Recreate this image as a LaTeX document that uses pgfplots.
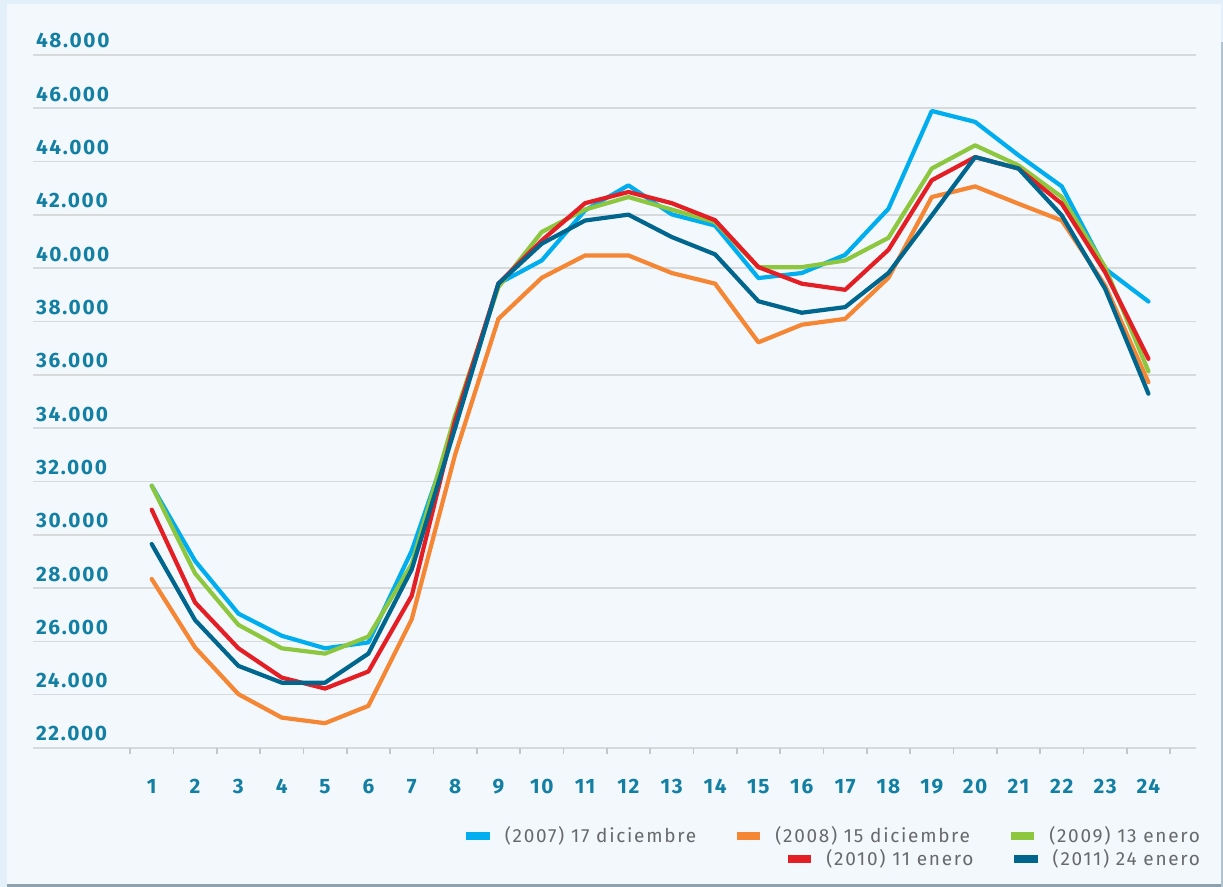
\documentclass[border=0pt]{standalone}
\usepackage{fontspec}
\setmainfont{Fira Sans}
\newfontfamily\tickfont[LetterSpace=8]{Fira Sans}
\newfontfamily\legfont[LetterSpace=9]{Fira Sans}
\usepackage{pgfplots}
\pgfplotsset{compat=1.18}
\definecolor{stripblue}{HTML}{E3EFF9}
\definecolor{panel}{HTML}{F3F8FC}
\definecolor{bordergray}{HTML}{8DA2AE}
\definecolor{rightgray}{HTML}{AFC2CD}
\definecolor{gridgray}{HTML}{D7DADD}
\definecolor{tickgray}{HTML}{C4C7CA}
\definecolor{tickblue}{HTML}{137FA3}
\definecolor{leggray}{HTML}{67696B}
\definecolor{c2007}{HTML}{00AEEF}
\definecolor{c2008}{HTML}{F58634}
\definecolor{c2009}{HTML}{8DC63F}
\definecolor{c2010}{HTML}{E31E24}
\definecolor{c2011}{HTML}{00668E}

\pgfplotstableread{
h y2007 y2008 y2009 y2010 y2011
1  31840 28340 31840 30940 29650
2  29020 25770 28550 27460 26800
3  27040 24020 26620 25740 25080
4  26210 23140 25740 24640 24450
5  25740 22930 25540 24230 24450
6  25960 23580 26180 24870 25540
7  29400 26830 28900 27710 28700
8  34100 33000 34470 34280 34000
9  39420 38100 39290 39420 39420
10 40290 39640 41360 41040 40920
11 42170 40480 42200 42440 41790
12 43110 40480 42670 42860 42010
13 42020 39820 42200 42440 41170
14 41600 39420 41730 41800 40520
15 39630 37220 40040 40040 38760
16 39820 37880 40040 39420 38330
17 40500 38100 40290 39190 38540
18 42230 39640 41140 40690 39820
19 45900 42670 43740 43300 41980
20 45490 43070 44610 44170 44170
21 44240 42420 43860 43740 43740
22 43070 41790 42670 42420 41980
23 39980 39350 40040 39850 39230
24 38750 35720 36130 36600 35290
}\datatable

\pgfplotsset{
  mylegend/.style={
    legend style={draw=none, fill=none, inner sep=0pt, outer sep=0pt,
      font=\legfont\fontsize{9.5}{11}\selectfont, text=leggray,
      nodes={inner sep=0pt},
      /tikz/every even column/.append style={column sep=20.25pt},
      /tikz/every odd column/.append style={column sep=7.5pt}},
    legend image code/.code={\path[fill, draw=none] (0pt,-1.83pt) rectangle (11.85pt,1.83pt);},
  },
  myaxis/.style={
    at={(0pt,0pt)}, anchor=south west,
    scale only axis, width=581.1pt, height=346.5pt,
    xmin=-1.728, xmax=25.09, ymin=22000, ymax=48000,
  },
}

\begin{document}
\begin{tikzpicture}[x=1pt,y=1pt]
\fill[stripblue] (-16.75,-69.5) rectangle (594.75,374);
\fill[panel] (-13.1,-68) rectangle (593.75,372);
\fill[bordergray] (-13.1,-69.5) rectangle (594.75,-68);
\fill[rightgray] (593.75,-69.5) rectangle (594.75,353);
\begin{axis}[myaxis, mylegend,
  axis line style={draw=none},
  scaled y ticks=false,
  xtick={1,2,...,24},
  xticklabels={1,2,3,4,5,6,7,8,9,10,11,12,13,14,15,16,17,18,19,20,21,22,23,24},
  minor xtick={0.5,1.5,...,24.5},
  xtick pos=lower, ytick pos=left,
  major tick length=0pt, minor tick length=3.2pt, tick align=outside,
  minor tick style={color=tickgray, line width=0.8pt},
  ytick={22000,24000,...,48000},
  yticklabels={22.000,24.000,26.000,28.000,30.000,32.000,34.000,36.000,38.000,40.000,42.000,44.000,46.000,48.000},
  ymajorgrids, major grid style={gridgray, line width=0.8pt},
  yticklabel style={anchor=base west, inner sep=0pt, xshift=1.1pt, yshift=3.5pt,
    font=\tickfont\bfseries\fontsize{10.4}{12}\selectfont, text=tickblue},
  xticklabel style={anchor=base, inner sep=0pt, yshift=-23pt,
    font=\tickfont\bfseries\fontsize{10.4}{12}\selectfont, text=tickblue},
  legend columns=3,
  legend style={at={(1.0037,-0.127)}, anchor=east},
  every axis plot/.append style={line width=2.1pt, line join=round, line cap=round},
]
\addplot[c2007] table[x=h, y=y2007] {\datatable};
\addlegendentry{(2007) 17 diciembre}
\addplot[c2008] table[x=h, y=y2008] {\datatable};
\addlegendentry{(2008) 15 diciembre}
\addplot[c2009] table[x=h, y=y2009] {\datatable};
\addlegendentry{(2009) 13 enero}
\addplot[c2010, forget plot] table[x=h, y=y2010] {\datatable};
\addplot[c2011, forget plot] table[x=h, y=y2011] {\datatable};
\end{axis}
\begin{axis}[myaxis, mylegend, hide axis,
  legend columns=2,
  legend style={at={(1.0037,-0.160)}, anchor=east},
]
\addlegendimage{c2010}
\addlegendentry{(2010) 11 enero}
\addlegendimage{c2011}
\addlegendentry{(2011) 24 enero}
\end{axis}
\pgfresetboundingbox
\useasboundingbox (-16.75,-69.5) rectangle (594.75,374);
\end{tikzpicture}
\end{document}
